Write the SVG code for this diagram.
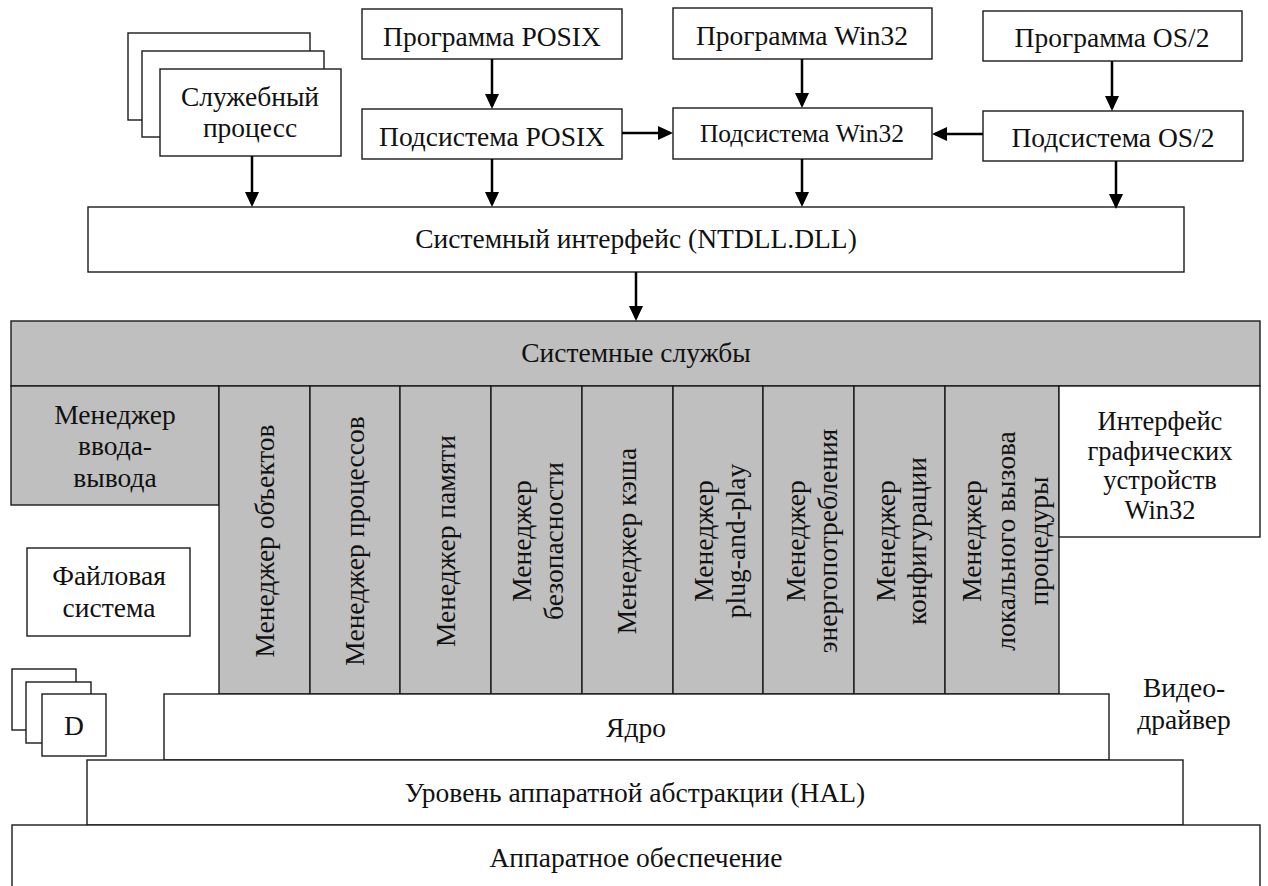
<svg xmlns="http://www.w3.org/2000/svg" width="1268" height="886" viewBox="0 0 1268 886">
<style>
.b{fill:#fff;stroke:#1a1a1a;stroke-width:1.4}
.g{fill:#bfbfbf;stroke:#1a1a1a;stroke-width:1.4}
text{font-family:"Liberation Serif","DejaVu Serif",serif;font-size:27.5px;fill:#111;text-anchor:middle}
.s24{font-size:25.5px}
.s26{font-size:26.5px}
.c{fill:none;stroke:#000;stroke-width:2.5;marker-end:url(#ah)}
</style>
<defs>
<marker id="ah" markerUnits="userSpaceOnUse" viewBox="0 0 15 14" refX="12" refY="7" markerWidth="15" markerHeight="14" orient="auto">
<path d="M0,0 L15,7 L0,14 Z" fill="#000"/>
</marker>
</defs>
<rect width="1268" height="886" fill="#fff"/>

<g id="service-process">
<rect class="b" x="128" y="33" width="182" height="87"/>
<rect class="b" x="142" y="51" width="182" height="86"/>
<rect class="b" x="160" y="69" width="181" height="87"/>
<text x="250" y="106">Служебный</text>
<text x="250" y="137">процесс</text>
</g>

<g id="prog-posix">
<rect class="b" x="362" y="9" width="260" height="50"/>
<text x="492" y="46">Программа POSIX</text>
</g>
<g id="sub-posix">
<rect class="b" x="362" y="109" width="260" height="50"/>
<text x="492" y="146">Подсистема POSIX</text>
</g>
<g id="prog-win32">
<rect class="b" x="673" y="8" width="259" height="51"/>
<text x="802" y="45">Программа Win32</text>
</g>
<g id="sub-win32">
<rect class="b" x="673" y="108" width="259" height="51"/>
<text class="s24" x="802" y="142">Подсистема Win32</text>
</g>
<g id="prog-os2">
<rect class="b" x="983" y="11" width="259" height="50"/>
<text x="1112" y="47">Программа OS/2</text>
</g>
<g id="sub-os2">
<rect class="b" x="983" y="111" width="260" height="50"/>
<text x="1113" y="147">Подсистема OS/2</text>
</g>

<g id="ntdll">
<rect class="b" x="88" y="207" width="1096" height="65"/>
<text x="636" y="248">Системный интерфейс (NTDLL.DLL)</text>
</g>

<g id="system-services">
<rect class="g" x="11" y="321" width="1249" height="65"/>
<text x="636" y="362">Системные службы</text>
</g>

<g id="io-manager">
<rect class="g" x="11" y="386" width="208" height="119"/>
<text x="115" y="424">Менеджер</text>
<text x="115" y="455">ввода-</text>
<text x="115" y="487">вывода</text>
</g>

<g id="object-manager">
<rect class="g" x="219" y="386" width="91" height="308"/>
<text transform="translate(274,541) rotate(-90)">Менеджер объектов</text>
</g>
<g id="process-manager">
<rect class="g" x="310" y="386" width="90" height="308"/>
<text transform="translate(364,541) rotate(-90)">Менеджер процессов</text>
</g>
<g id="memory-manager">
<rect class="g" x="400" y="386" width="91" height="308"/>
<text transform="translate(455,541) rotate(-90)">Менеджер памяти</text>
</g>
<g id="security-manager">
<rect class="g" x="491" y="386" width="91" height="308"/>
<text transform="translate(531,541) rotate(-90)">Менеджер</text>
<text transform="translate(563,541) rotate(-90)">безопасности</text>
</g>
<g id="cache-manager">
<rect class="g" x="582" y="386" width="91" height="308"/>
<text transform="translate(636,541) rotate(-90)">Менеджер кэша</text>
</g>
<g id="pnp-manager">
<rect class="g" x="673" y="386" width="90" height="308"/>
<text transform="translate(713,541) rotate(-90)">Менеджер</text>
<text transform="translate(745,541) rotate(-90)">plug-and-play</text>
</g>
<g id="power-manager">
<rect class="g" x="763" y="386" width="91" height="308"/>
<text transform="translate(805,541) rotate(-90)">Менеджер</text>
<text transform="translate(837,541) rotate(-90)">энергопотребления</text>
</g>
<g id="config-manager">
<rect class="g" x="854" y="386" width="91" height="308"/>
<text transform="translate(895,541) rotate(-90)">Менеджер</text>
<text transform="translate(926,541) rotate(-90)">конфигурации</text>
</g>
<g id="lpc-manager">
<rect class="g" x="945" y="386" width="114" height="308"/>
<text transform="translate(981,541) rotate(-90)">Менеджер</text>
<text transform="translate(1015,541) rotate(-90)">локального вызова</text>
<text transform="translate(1048,541) rotate(-90)">процедуры</text>
</g>

<g id="gdi">
<rect class="b" x="1059" y="386" width="201" height="151"/>
<text class="s26" x="1160" y="430">Интерфейс</text>
<text class="s26" x="1160" y="459.5">графических</text>
<text class="s26" x="1160" y="489">устройств</text>
<text class="s26" x="1160" y="518.5">Win32</text>
</g>

<g id="file-system">
<rect class="b" x="27" y="548" width="163" height="88"/>
<text x="109" y="585">Файловая</text>
<text x="109" y="617">система</text>
</g>

<g id="drivers">
<rect class="b" x="12" y="669" width="64" height="61"/>
<rect class="b" x="26" y="682" width="65" height="61"/>
<rect class="b" x="42" y="694" width="64" height="62"/>
<text x="74" y="735">D</text>
</g>

<g id="video-driver">
<text x="1184" y="697">Видео-</text>
<text x="1184" y="729">драйвер</text>
</g>

<g id="kernel">
<rect class="b" x="164" y="694" width="945" height="66"/>
<text x="636" y="737">Ядро</text>
</g>

<g id="hal">
<rect class="b" x="87" y="760" width="1096" height="65"/>
<text x="635" y="802">Уровень аппаратной абстракции (HAL)</text>
</g>

<g id="hardware">
<rect class="b" x="12" y="825" width="1248" height="80"/>
<text x="636" y="867">Аппаратное обеспечение</text>
</g>

<g id="connectors">
<path class="c" d="M252,156 V204"/>
<path class="c" d="M492,59 V106"/>
<path class="c" d="M492,159 V204"/>
<path class="c" d="M622,133 H670"/>
<path class="c" d="M802,59 V105"/>
<path class="c" d="M802,159 V204"/>
<path class="c" d="M1112,61 V108"/>
<path class="c" d="M983,134 H935"/>
<path class="c" d="M1116,161 V206"/>
<path class="c" d="M636,272 V318"/>
</g>
</svg>
